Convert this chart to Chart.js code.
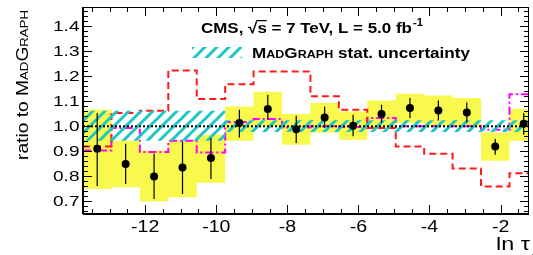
<!DOCTYPE html>
<html>
<head>
<meta charset="utf-8">
<script src="https://cdn.jsdelivr.net/npm/chart.js@4.4.1/dist/chart.umd.min.js"></script>
<style>
html, body { margin: 0; padding: 0; background: #fff; overflow: hidden; }
</style>
</head>
<body>
<canvas id="ratioChart" width="533" height="255"></canvas>
<script>
// bins in ln(tau)
const binEdges = [-13.75, -12.95, -12.15, -11.35, -10.55, -9.75, -8.95, -8.15, -7.35,
                  -6.55, -5.75, -4.95, -4.15, -3.35, -2.55, -1.75, -0.95];

// data / MadGraph
const dataRatio = [0.910, 0.850, 0.800, 0.836, 0.873, 1.013, 1.069, 0.988,
                   1.035, 1.002, 1.049, 1.073, 1.063, 1.055, 0.919, 1.010];
const errLow  = [0.762, 0.770, 0.710, 0.730, 0.790, 0.955, 1.026, 0.933,
                 0.993, 0.960, 1.013, 1.033, 1.023, 1.015, 0.886, 0.966];
const errHigh = [1.053, 0.930, 0.890, 0.940, 0.953, 1.066, 1.126, 1.042,
                 1.079, 1.046, 1.086, 1.113, 1.103, 1.095, 0.949, 1.053];

// yellow band (total uncertainty)
const bandLow  = [0.750, 0.757, 0.700, 0.717, 0.775, 0.942, 0.999, 0.926,
                  0.975, 0.946, 0.993, 1.013, 1.002, 0.997, 0.862, 0.942];
const bandHigh = [1.066, 0.942, 0.903, 0.942, 0.966, 1.079, 1.138, 1.049,
                  1.093, 1.059, 1.103, 1.130, 1.123, 1.113, 0.975, 1.069];

// other generators / MadGraph
const redRatio     = [0.919, 1.053, 1.062, 1.223, 1.109, 1.168, 1.219, 1.219,
                      1.120, 1.066, 0.993, 0.919, 0.890, 0.832, 0.760, 0.813];
const magentaRatio = [0.903, 0.993, 0.897, 0.942, 0.895, 1.017, 1.029, 0.995,
                      1.000, 0.997, 1.033, 1.000, 1.000, 1.000, 0.986, 1.128];

// MadGraph stat. uncertainty
const mgStatLow  = [0.942, 0.942, 0.942, 0.942, 0.942, 0.977, 0.977, 0.977,
                    0.977, 0.977, 0.977, 0.977, 0.977, 0.977, 0.977, 0.977];
const mgStatHigh = [1.062, 1.062, 1.062, 1.062, 1.062, 1.024, 1.024, 1.024,
                    1.024, 1.024, 1.024, 1.024, 1.024, 1.024, 1.024, 1.024];

const xTickVals = [-12, -10, -8, -6, -4, -2];
const yTickVals = [0.7, 0.8, 0.9, 1.0, 1.1, 1.2, 1.3, 1.4];

const FONT = "'Liberation Sans', Arial, sans-serif";

// histogram as stepped line: value i holds from edge i to edge i+1
function stepData(vals) {
    const pts = vals.map((v, i) => ({ x: binEdges[i], y: v }));
    pts.push({ x: binEdges[vals.length], y: vals[vals.length - 1] });
    return pts;
}

function makeHatch() {
    const c = document.createElement('canvas');
    c.width = 12; c.height = 12;
    const g = c.getContext('2d');
    g.strokeStyle = '#1ec6c6';
    g.lineWidth = 3;
    g.beginPath();
    g.moveTo(-3, 15); g.lineTo(15, -3);
    g.moveTo(-3, 3); g.lineTo(3, -3);
    g.moveTo(9, 15); g.lineTo(15, 9);
    g.stroke();
    return g.createPattern(c, 'repeat');
}
const hatch = makeHatch();

const centers = dataRatio.map((v, i) => ({ x: (binEdges[i] + binEdges[i + 1]) / 2, y: v }));

const stepLine = {
    stepped: true,
    pointRadius: 0,
    tension: 0
};

// the reference text is drawn a bit wide, so stretch it horizontally
function wideText(ctx, text, x, y, sx, align) {
    ctx.save();
    ctx.translate(x, y);
    ctx.scale(sx, 1);
    ctx.textAlign = align || 'left';
    ctx.fillText(text, 0, 0);
    ctx.restore();
}

// inward ticks + frame
const framePlugin = {
    id: 'frame',
    afterDraw(chart) {
        const { ctx, chartArea: a, scales: { x, y } } = chart;
        ctx.save();
        ctx.strokeStyle = '#000';
        ctx.lineWidth = 1;
        ctx.beginPath();
        for (let k = -28; k <= -2; k++) {
            const v = k / 2;
            if (v < x.min || v > x.max) continue;
            const px = Math.round(x.getPixelForValue(v)) + 0.5;
            const len = xTickVals.includes(v) ? 9 : 5;
            ctx.moveTo(px, a.bottom); ctx.lineTo(px, a.bottom - len);
            ctx.moveTo(px, a.top); ctx.lineTo(px, a.top + len);
        }
        for (let k = 33; k <= 73; k++) {
            const py = Math.round(y.getPixelForValue(k / 50)) + 0.5;
            const len = k % 5 === 0 ? 9 : 5;
            ctx.moveTo(a.left, py); ctx.lineTo(a.left + len, py);
            ctx.moveTo(a.right, py); ctx.lineTo(a.right - len, py);
        }
        ctx.stroke();
        ctx.strokeRect(a.left + 0.5, a.top + 0.5, a.right - a.left - 1, a.bottom - a.top);
        ctx.lineWidth = 2;
        ctx.beginPath();
        ctx.moveTo(a.left, a.bottom); ctx.lineTo(a.right, a.bottom);
        ctx.moveTo(a.left, a.top); ctx.lineTo(a.left, a.bottom);
        ctx.stroke();
        ctx.restore();
    }
};

// vertical error bars on data points
const errorBarPlugin = {
    id: 'errorBars',
    afterDatasetsDraw(chart) {
        const { ctx, scales: { x, y } } = chart;
        ctx.save();
        ctx.strokeStyle = '#000';
        ctx.lineWidth = 1.2;
        ctx.beginPath();
        centers.forEach((c, i) => {
            const px = x.getPixelForValue(c.x);
            ctx.moveTo(px, y.getPixelForValue(errLow[i]));
            ctx.lineTo(px, y.getPixelForValue(errHigh[i]));
        });
        ctx.stroke();
        ctx.restore();
    }
};

// tick labels, titles, legend
const textPlugin = {
    id: 'texts',
    afterDraw(chart) {
        const { ctx, scales: { x, y } } = chart;
        ctx.save();
        ctx.fillStyle = '#000';

        // tick labels from the chart's own scales
        ctx.textBaseline = 'middle';
        ctx.font = '17px ' + FONT;
        x.ticks.forEach((t, i) => {
            wideText(ctx, String(t.value), x.getPixelForTick(i), 227, 1.15, 'center');
        });
        ctx.font = '15.5px ' + FONT;
        y.ticks.forEach((t, i) => {
            wideText(ctx, t.value.toFixed(1), 79.5, y.getPixelForTick(i) + 0.5, 1.23, 'right');
        });

        ctx.textBaseline = 'alphabetic';
        ctx.textAlign = 'left';

        // CMS header
        ctx.save();
        ctx.translate(201, 33);
        ctx.scale(1.13, 1);
        let cx = 0;
        ctx.font = 'bold 15px ' + FONT;
        ctx.fillText('CMS, ', cx, 0); cx += ctx.measureText('CMS, ').width;
        ctx.fillText('\u221A', cx, 0); cx += ctx.measureText('\u221A').width;
        const sw = ctx.measureText('s').width;
        ctx.fillText('s', cx, 0);
        ctx.fillRect(cx - 1, -13, sw + 1, 1.2);
        cx += sw;
        const rest = ' = 7 TeV, L = 5.0 fb';
        ctx.fillText(rest, cx, 0); cx += ctx.measureText(rest).width;
        ctx.font = 'bold 10px ' + FONT;
        ctx.fillText('-1', cx + 1, -7);
        ctx.restore();

        // legend entry
        ctx.fillStyle = hatch;
        ctx.fillRect(192, 47, 50, 11);
        ctx.fillStyle = '#000';
        ctx.save();
        ctx.translate(252, 57.5);
        ctx.scale(1.14, 1);
        ctx.font = 'small-caps bold 15px ' + FONT;
        ctx.fillText('MadGraph', 0, 0);
        const mw = ctx.measureText('MadGraph').width;
        ctx.font = 'bold 15px ' + FONT;
        ctx.fillText(' stat. uncertainty', mw, 0);
        ctx.restore();

        // y-axis title
        ctx.save();
        ctx.translate(28, 10);
        ctx.rotate(-Math.PI / 2);
        ctx.scale(1.2, 1);
        ctx.font = '16px ' + FONT;
        const w1 = ctx.measureText('ratio to ').width;
        ctx.font = 'small-caps 16px ' + FONT;
        const w2 = ctx.measureText('MadGraph').width;
        ctx.font = '16px ' + FONT;
        ctx.fillText('ratio to ', -(w1 + w2), 0);
        ctx.font = 'small-caps 16px ' + FONT;
        ctx.fillText('MadGraph', -w2, 0);
        ctx.restore();

        // x-axis title
        ctx.save();
        ctx.translate(496, 250);
        ctx.scale(1.3, 1);
        ctx.font = '18px ' + FONT;
        ctx.fillText('ln \u03C4', 0, 0);
        const tw = ctx.measureText('ln \u03C4').width;
        ctx.font = '11px ' + FONT;
        ctx.fillText('\u22A5', tw + 1, 5);
        ctx.restore();

        ctx.restore();
    }
};

const ratioConfig = {
    type: 'line',
    data: {
        datasets: [
            {   // 0 yellow band lower edge
                ...stepLine, data: stepData(bandLow), borderWidth: 0,
                borderColor: 'rgba(0,0,0,0)', fill: false, order: 9
            },
            {   // 1 yellow band upper edge, filled to lower
                ...stepLine, data: stepData(bandHigh), borderWidth: 0,
                borderColor: 'rgba(0,0,0,0)', backgroundColor: '#f9f84c', fill: '-1', order: 8
            },
            {   // 2 magenta dash-dot
                ...stepLine, data: stepData(magentaRatio), borderColor: '#ff00ff',
                borderWidth: 2, borderDash: [8, 3, 2, 3], fill: false, order: 7
            },
            {   // 3 red dashed
                ...stepLine, data: stepData(redRatio), borderColor: '#ff1a1a',
                borderWidth: 2, borderDash: [7, 4], fill: false, order: 6
            },
            {   // 4 MadGraph stat lower
                ...stepLine, data: stepData(mgStatLow), borderWidth: 0,
                borderColor: 'rgba(0,0,0,0)', fill: false, order: 5
            },
            {   // 5 MadGraph stat upper, hatched
                ...stepLine, data: stepData(mgStatHigh), borderWidth: 0,
                borderColor: 'rgba(0,0,0,0)', backgroundColor: hatch, fill: '-1', order: 4
            },
            {   // 6 unity line
                data: [{ x: -13.75, y: 1.0 }, { x: -0.95, y: 1.0 }],
                borderColor: '#000', borderWidth: 2, borderDash: [2, 2],
                pointRadius: 0, fill: false, order: 3
            },
            {   // 7 data points
                data: centers, showLine: false, pointRadius: 4,
                pointBackgroundColor: '#000', pointBorderColor: '#000',
                pointBorderWidth: 0, order: 1
            }
        ]
    },
    options: {
        responsive: false,
        animation: false,
        layout: { padding: { left: 0, right: 1, top: 7, bottom: 0 } },
        plugins: {
            legend: { display: false },
            tooltip: { enabled: false }
        },
        scales: {
            x: {
                type: 'linear',
                min: -13.75,
                max: -1.2,
                afterBuildTicks: (s) => { s.ticks = xTickVals.map(v => ({ value: v })); },
                afterFit: (s) => { s.height = 41; },
                grid: { display: false, drawTicks: false },
                border: { display: false },
                ticks: { display: false }
            },
            y: {
                type: 'linear',
                min: 0.65,
                max: 1.476,
                afterBuildTicks: (s) => { s.ticks = yTickVals.map(v => ({ value: v })); },
                afterFit: (s) => { s.width = 83; },
                grid: { display: false, drawTicks: false },
                border: { display: false },
                ticks: { display: false }
            }
        }
    },
    plugins: [errorBarPlugin, framePlugin, textPlugin]
};

new Chart(document.getElementById('ratioChart'), ratioConfig);
</script>
</body>
</html>
